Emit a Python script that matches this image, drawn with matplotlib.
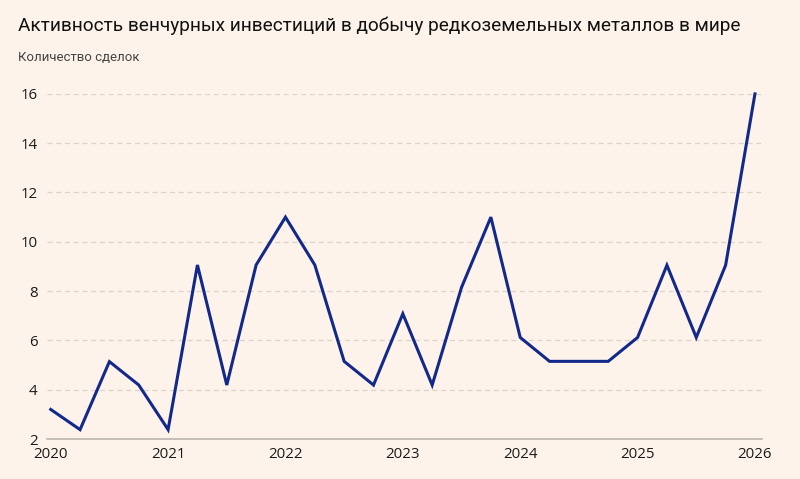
import matplotlib
matplotlib.use("Agg")
import matplotlib.pyplot as plt

# Quarterly deal counts, Q1 2020 .. Q1 2026
quarters = [2020 + i / 4 for i in range(25)]
deals = [3.2, 2.38, 5.14, 4.19, 2.38, 9.06, 4.19, 9.06, 11.0, 9.06,
         5.15, 4.19, 7.08, 4.19, 8.15, 11.0, 6.12, 5.15, 5.15, 5.15,
         6.12, 9.05, 6.12, 9.05, 16.0]
year_ticks = [2020, 2021, 2022, 2023, 2024, 2025, 2026]
y_ticks = [2, 4, 6, 8, 10, 12, 14, 16]

title = "Активность венчурных инвестиций в добычу редкоземельных металлов в мире"
subtitle = "Количество сделок"

BG = "#fdf3ea"
LINE = "#13298a"

fig = plt.figure(figsize=(8.0, 4.79), dpi=100, facecolor=BG)
ax = fig.add_axes([0.059, 0.0835, 0.8935, 0.7205], facecolor=BG)

ax.plot(quarters, deals, color=LINE, lw=2.2, solid_joinstyle="miter",
        clip_on=False, zorder=3)

ax.set_xlim(2019.97, 2026.06)
ax.set_ylim(2, 16)
ax.set_xticks(year_ticks)
ax.set_xticklabels([str(y) for y in year_ticks])
ax.set_yticks(y_ticks)
ax.grid(axis="y", color="#ddd3c9", lw=0.9, ls=(0, (4, 3)))
for s in ["top", "right", "left"]:
    ax.spines[s].set_visible(False)
ax.spines["bottom"].set_color("#bdb6ae")
ax.spines["bottom"].set_linewidth(1.2)
ax.tick_params(length=0, labelsize=10.8, labelcolor="#1a1a1a")
ax.tick_params(axis="y", pad=7)
ax.tick_params(axis="x", pad=6)
for lab in ax.get_xticklabels() + ax.get_yticklabels():
    lab.set_fontfamily("Open Sans")

# title: shrink the font until it spans the same width as in the reference
t = fig.text(0.022, 0.946, title, fontsize=15.5, family="Roboto",
             color="#111111", va="center", ha="left")
renderer = fig.canvas.get_renderer()
w = t.get_window_extent(renderer).width
t.set_fontsize(15.5 * 722 / w)
fig.text(0.022, 0.879, subtitle, fontsize=9.5, family="Roboto",
         color="#444444", va="center", ha="left")

fig.savefig("out.png", dpi=100, facecolor=BG)
